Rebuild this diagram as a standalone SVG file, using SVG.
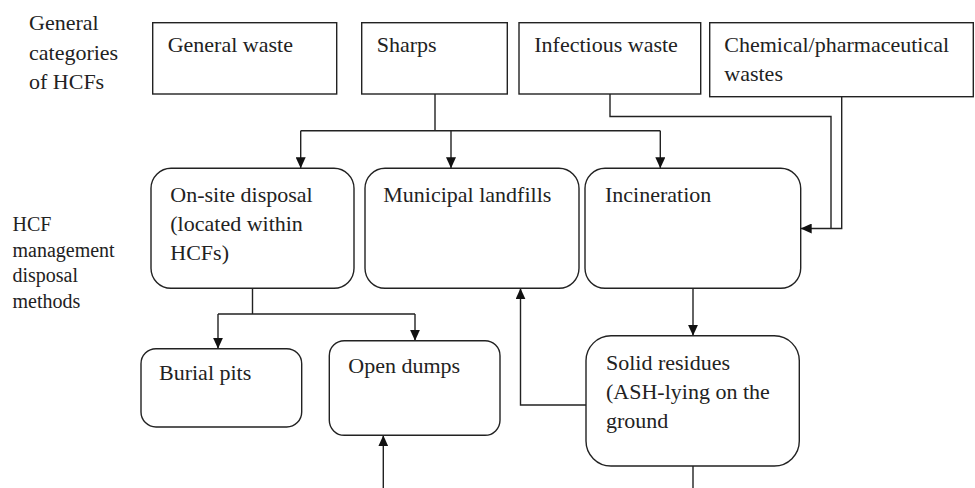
<svg xmlns="http://www.w3.org/2000/svg" width="975" height="488" viewBox="0 0 975 488">
<style>
.box{fill:#fff;stroke:#222;stroke-width:1.4}
.t{font-family:"Liberation Serif","Times New Roman",serif;font-size:22px;fill:#222}
.lbl{font-family:"Liberation Serif","Times New Roman",serif;font-size:20px;fill:#222}
.c{fill:none;stroke:#222;stroke-width:1.4}
.a{marker-end:url(#arr)}
</style>
<defs>
<marker id="arr" markerUnits="userSpaceOnUse" markerWidth="12" markerHeight="10" refX="11" refY="5" orient="auto">
<path d="M0,0 L11,5 L0,10 z" fill="#111"/>
</marker>
</defs>
<rect width="975" height="488" fill="#fff"/>
<g id="label-categories">
<text class="t" x="29" y="30">General</text>
<text class="t" x="29" y="59.5">categories</text>
<text class="t" x="29" y="89">of HCFs</text>
</g>
<g id="label-methods">
<text class="lbl" x="12.5" y="231">HCF</text>
<text class="lbl" x="12.5" y="256.5">management</text>
<text class="lbl" x="12.5" y="282">disposal</text>
<text class="lbl" x="12.5" y="307.5">methods</text>
</g>
<g id="connectors">
<path class="c" d="M435,94 V130.7 M300.7,130.7 H660.3"/>
<path class="c a" d="M300.7,130.7 V168.3"/>
<path class="c a" d="M451,130.7 V168.3"/>
<path class="c a" d="M660.3,130.7 V168.3"/>
<path class="c" d="M610,94 V116.5 H831 V228.5"/>
<path class="c a" d="M841.7,96.7 V228.5 H800.7"/>
<path class="c" d="M252.5,288.3 V314 M218,314 H415"/>
<path class="c a" d="M218,314 V348.7"/>
<path class="c a" d="M415,314 V340.7"/>
<path class="c a" d="M693,288.3 V335.8"/>
<path class="c a" d="M586,405 H520.5 V288.3"/>
<path class="c" d="M693,466 V488"/>
<path class="c a" d="M383.3,488 V435.3"/>
</g>
<g id="general-waste">
<rect class="box" x="152.7" y="22.7" width="184" height="71.3"/>
<text class="t" x="167.7" y="51.5">General waste</text>
</g>
<g id="sharps">
<rect class="box" x="361.7" y="22.7" width="145.6" height="71.3"/>
<text class="t" x="376.7" y="51.5">Sharps</text>
</g>
<g id="infectious-waste">
<rect class="box" x="519" y="22.7" width="181.7" height="71.3"/>
<text class="t" x="534.3" y="51.5">Infectious waste</text>
</g>
<g id="chemical-waste">
<rect class="box" x="709.7" y="22.7" width="263.6" height="74"/>
<text class="t" x="724.3" y="51.5">Chemical/pharmaceutical</text>
<text class="t" x="724.3" y="80.5">wastes</text>
</g>
<g id="on-site-disposal">
<rect class="box" x="151" y="168.3" width="203" height="120" rx="20"/>
<text class="t" x="170.3" y="201.5">On-site disposal</text>
<text class="t" x="170.3" y="231">(located within</text>
<text class="t" x="170.3" y="260">HCFs)</text>
</g>
<g id="municipal-landfills">
<rect class="box" x="365" y="168.3" width="214" height="120" rx="20"/>
<text class="t" x="383.3" y="201.5">Municipal landfills</text>
</g>
<g id="incineration">
<rect class="box" x="585" y="168.3" width="215.7" height="120" rx="20"/>
<text class="t" x="605" y="202">Incineration</text>
</g>
<g id="burial-pits">
<rect class="box" x="141" y="348.7" width="160.7" height="78.3" rx="15"/>
<text class="t" x="159" y="380">Burial pits</text>
</g>
<g id="open-dumps">
<rect class="box" x="329.3" y="340.7" width="170.7" height="94.6" rx="15"/>
<text class="t" x="348.3" y="373">Open dumps</text>
</g>
<g id="solid-residues">
<rect class="box" x="586" y="335.8" width="213.3" height="130.2" rx="25"/>
<text class="t" x="606" y="370">Solid residues</text>
<text class="t" x="606" y="399">(ASH-lying on the</text>
<text class="t" x="606" y="428">ground</text>
</g>
</svg>
